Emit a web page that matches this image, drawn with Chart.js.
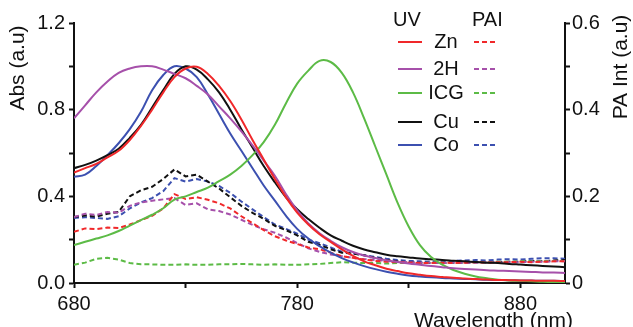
<!DOCTYPE html>
<html>
<head>
<meta charset="utf-8">
<script src="https://cdn.jsdelivr.net/npm/chart.js@4"></script>
<style>
  html, body { margin: 0; padding: 0; background: #fff; }
  #wrap { width: 633px; height: 327px; }
</style>
</head>
<body>
<div id="wrap"><canvas id="absChart" width="633" height="327"></canvas></div>
<script>
const wavelengths = [680, 685, 690, 695, 700, 705, 710, 715, 720, 725, 730, 735, 740, 745, 750,
    755, 760, 765, 770, 775, 780, 785, 790, 795, 800, 805, 810, 815, 820, 825,
    830, 835, 840, 845, 850, 855, 860, 865, 870, 875, 880, 885, 890, 895, 900];

// UV absorbance (left axis)
const uvZn = [0.51, 0.53, 0.55, 0.58, 0.61, 0.66, 0.725, 0.80, 0.88, 0.95, 0.99, 0.998, 0.965, 0.91, 0.84,
    0.755, 0.66, 0.57, 0.48, 0.395, 0.325, 0.27, 0.225, 0.19, 0.155, 0.125, 0.10, 0.082, 0.066, 0.055,
    0.045, 0.038, 0.032, 0.028, 0.024, 0.021, 0.018, 0.016, 0.014, 0.013, 0.012, 0.011, 0.010, 0.010, 0.009];
const uv2H = [0.76, 0.82, 0.88, 0.93, 0.97, 0.99, 1.0, 1.0, 0.985, 0.965, 0.945, 0.91, 0.87, 0.815, 0.76,
    0.70, 0.635, 0.565, 0.495, 0.41, 0.335, 0.275, 0.23, 0.195, 0.165, 0.143, 0.127, 0.115, 0.105, 0.097,
    0.09, 0.084, 0.078, 0.073, 0.068, 0.065, 0.062, 0.059, 0.057, 0.055, 0.053, 0.051, 0.049, 0.048, 0.046];
const uvICG = [0.175, 0.19, 0.205, 0.22, 0.24, 0.265, 0.29, 0.315, 0.345, 0.385, 0.40, 0.42, 0.44, 0.47, 0.50,
    0.54, 0.59, 0.65, 0.73, 0.83, 0.92, 0.98, 1.025, 1.02, 0.97, 0.88, 0.76, 0.63, 0.50, 0.37,
    0.26, 0.175, 0.12, 0.085, 0.06, 0.043, 0.03, 0.022, 0.015, 0.012, 0.01, 0.008, 0.006, 0.005, 0.005];
const uvCu = [0.53, 0.545, 0.565, 0.59, 0.62, 0.67, 0.73, 0.81, 0.89, 0.965, 1.0, 0.985, 0.94, 0.88, 0.80,
    0.71, 0.625, 0.54, 0.465, 0.395, 0.34, 0.295, 0.255, 0.22, 0.195, 0.172, 0.155, 0.142, 0.13, 0.123,
    0.118, 0.113, 0.11, 0.106, 0.103, 0.10, 0.097, 0.094, 0.092, 0.088, 0.085, 0.082, 0.079, 0.076, 0.073];
const uvCo = [0.49, 0.50, 0.54, 0.59, 0.645, 0.71, 0.79, 0.89, 0.96, 1.0, 0.99, 0.95, 0.87, 0.78, 0.69,
    0.61, 0.53, 0.45, 0.38, 0.31, 0.25, 0.205, 0.17, 0.14, 0.115, 0.095, 0.078, 0.064, 0.052, 0.043,
    0.035, 0.030, 0.026, 0.023, 0.021, 0.019, 0.017, 0.015, 0.014, 0.013, 0.012, 0.011, 0.010, 0.010, 0.009];

// PA intensity (right axis)
const paZn = [0.118, 0.126, 0.124, 0.128, 0.127, 0.135, 0.145, 0.155, 0.172, 0.205, 0.194, 0.198, 0.192, 0.184, 0.172,
    0.154, 0.138, 0.122, 0.108, 0.098, 0.090, 0.082, 0.078, 0.070, 0.062, 0.058, 0.054, 0.051, 0.049, 0.048,
    0.047, 0.046, 0.046, 0.047, 0.046, 0.047, 0.048, 0.047, 0.048, 0.048, 0.049, 0.048, 0.049, 0.050, 0.050];
const pa2H = [0.152, 0.160, 0.157, 0.164, 0.162, 0.178, 0.186, 0.190, 0.193, 0.196, 0.180, 0.184, 0.170, 0.166, 0.158,
    0.146, 0.134, 0.124, 0.116, 0.105, 0.092, 0.080, 0.072, 0.066, 0.062, 0.058, 0.055, 0.053, 0.051, 0.049,
    0.048, 0.047, 0.047, 0.046, 0.047, 0.046, 0.047, 0.048, 0.047, 0.048, 0.048, 0.049, 0.049, 0.050, 0.050];
const paICG = [0.042, 0.047, 0.056, 0.058, 0.054, 0.046, 0.043, 0.043, 0.042, 0.042, 0.043, 0.042, 0.042, 0.043, 0.043,
    0.044, 0.043, 0.042, 0.043, 0.042, 0.042, 0.043, 0.044, 0.046, 0.048, 0.047, 0.046, 0.046, 0.045, 0.046,
    0.046, 0.046, 0.047, 0.047, 0.047, 0.048, 0.048, 0.048, 0.049, 0.049, 0.050, 0.050, 0.051, 0.051, 0.051];
const paCu = [0.152, 0.156, 0.153, 0.160, 0.164, 0.200, 0.214, 0.222, 0.240, 0.262, 0.246, 0.250, 0.234, 0.218, 0.198,
    0.178, 0.162, 0.148, 0.132, 0.122, 0.110, 0.095, 0.088, 0.078, 0.070, 0.068, 0.064, 0.058, 0.053, 0.050,
    0.048, 0.047, 0.046, 0.046, 0.047, 0.046, 0.048, 0.047, 0.048, 0.049, 0.049, 0.051, 0.050, 0.052, 0.053];
const paCo = [0.150, 0.152, 0.150, 0.148, 0.154, 0.172, 0.186, 0.196, 0.212, 0.242, 0.234, 0.240, 0.234, 0.224, 0.208,
    0.188, 0.170, 0.152, 0.135, 0.125, 0.114, 0.100, 0.092, 0.082, 0.072, 0.068, 0.064, 0.060, 0.056, 0.053,
    0.051, 0.050, 0.049, 0.050, 0.051, 0.052, 0.053, 0.052, 0.054, 0.055, 0.054, 0.056, 0.057, 0.057, 0.056];

const sampleNames = ['Zn', '2H', 'ICG', 'Cu', 'Co'];
const sampleColors = ['#f0282a', '#a650aa', '#5cbb46', '#111111', '#3c50b0'];
const uvSeries = [uvZn, uv2H, uvICG, uvCu, uvCo];
const paSeries = [paZn, pa2H, paICG, paCu, paCo];

const xTicks = [680, 730, 780, 830, 880];
const xLabels = [680, 780, 880];
const absTicks = [0, 0.2, 0.4, 0.6, 0.8, 1.0, 1.2];
const absLabels = [0, 0.4, 0.8, 1.2];
const paTicks = [0, 0.1, 0.2, 0.3, 0.4, 0.5, 0.6];
const paLabels = [0, 0.2, 0.4, 0.6];

const FONT = '"Liberation Sans", Arial, sans-serif';
const INK = '#111111';

function toPoints(values) {
    return values.map((v, i) => ({ x: wavelengths[i], y: v }));
}

function hasLabel(list, v) {
    return list.some(l => Math.abs(l - v) < 1e-6);
}

const datasets = [];
uvSeries.forEach((vals, i) => {
    datasets.push({
        label: 'UV ' + sampleNames[i],
        data: toPoints(vals),
        yAxisID: 'y',
        borderColor: sampleColors[i],
        borderWidth: 2,
        pointRadius: 0,
        tension: 0.4,
        fill: false
    });
});
paSeries.forEach((vals, i) => {
    datasets.push({
        label: 'PAI ' + sampleNames[i],
        data: toPoints(vals),
        yAxisID: 'y2',
        borderColor: sampleColors[i],
        borderWidth: 2,
        borderDash: [5, 3],
        pointRadius: 0,
        tension: 0,
        fill: false
    });
});

// legend with two columns (UV solid / PAI dashed) plus axis titles
const decorPlugin = {
    id: 'decor',
    afterDraw(chart) {
        const ctx = chart.ctx;
        ctx.save();
        ctx.fillStyle = INK;
        ctx.font = '20px ' + FONT;
        ctx.textBaseline = 'middle';

        ctx.textAlign = 'left';
        ctx.fillText('UV', 393, 20);
        ctx.fillText('PAI', 472, 20);

        const rowY = [42, 69, 93, 122, 145];
        sampleNames.forEach((name, i) => {
            const y = rowY[i];
            ctx.textAlign = 'center';
            ctx.fillStyle = INK;
            ctx.fillText(name, 446, y);

            ctx.strokeStyle = sampleColors[i];
            ctx.lineWidth = 2;
            ctx.setLineDash([]);
            ctx.beginPath();
            ctx.moveTo(398, y);
            ctx.lineTo(422, y);
            ctx.stroke();

            ctx.setLineDash([5, 3]);
            ctx.beginPath();
            ctx.moveTo(474, y);
            ctx.lineTo(496, y);
            ctx.stroke();
        });
        ctx.setLineDash([]);

        // axis titles
        ctx.font = '21px ' + FONT;
        ctx.fillStyle = INK;
        ctx.textAlign = 'center';
        ctx.save();
        ctx.translate(18, 68);
        ctx.rotate(-Math.PI / 2);
        ctx.fillText('Abs (a.u)', 0, 0);
        ctx.restore();

        ctx.save();
        ctx.translate(621, 67);
        ctx.rotate(-Math.PI / 2);
        ctx.fillText('PA Int (a.u)', 0, 0);
        ctx.restore();

        ctx.textAlign = 'right';
        ctx.textBaseline = 'alphabetic';
        ctx.fillText('Wavelength (nm)', 573, 327);
        ctx.restore();
    }
};

function axisStyle() {
    return {
        grid: {
            drawOnChartArea: false,
            drawTicks: true,
            tickLength: 5,
            tickColor: INK,
            tickWidth: 2
        },
        border: { display: true, color: INK, width: 2 }
    };
}

const ctx = document.getElementById('absChart');

new Chart(ctx, {
    type: 'line',
    data: { datasets: datasets },
    plugins: [decorPlugin],
    options: {
        responsive: false,
        animation: false,
        layout: { padding: { top: 23, left: 0, right: 0, bottom: 0 } },
        plugins: {
            legend: { display: false },
            tooltip: { enabled: false }
        },
        scales: {
            x: {
                type: 'linear',
                min: 680,
                max: 900,
                ...axisStyle(),
                afterBuildTicks: s => { s.ticks = xTicks.map(v => ({ value: v })); },
                afterFit: s => { s.height = 44; },
                ticks: {
                    color: INK,
                    font: { family: FONT, size: 20 },
                    padding: 4,
                    maxRotation: 0,
                    autoSkip: false,
                    callback: v => hasLabel(xLabels, v) ? String(v) : ''
                }
            },
            y: {
                position: 'left',
                min: 0,
                max: 1.2,
                ...axisStyle(),
                afterBuildTicks: s => { s.ticks = absTicks.map(v => ({ value: v })); },
                afterFit: s => { s.width = 74; },
                ticks: {
                    color: INK,
                    font: { family: FONT, size: 20 },
                    padding: 4,
                    autoSkip: false,
                    callback: v => hasLabel(absLabels, v) ? v.toFixed(1) : ''
                }
            },
            y2: {
                position: 'right',
                min: 0,
                max: 0.6,
                ...axisStyle(),
                afterBuildTicks: s => { s.ticks = paTicks.map(v => ({ value: v })); },
                afterFit: s => { s.width = 68; },
                ticks: {
                    color: INK,
                    font: { family: FONT, size: 20 },
                    padding: 2,
                    autoSkip: false,
                    callback: v => hasLabel(paLabels, v) ? (v === 0 ? '0' : v.toFixed(1)) : ''
                }
            }
        }
    }
});
</script>
</body>
</html>
